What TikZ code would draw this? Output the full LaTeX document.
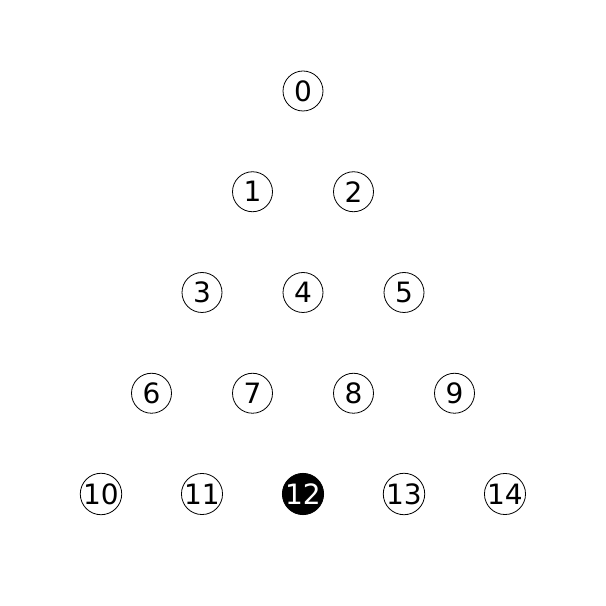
\documentclass[tikz,border=0pt]{standalone}
\usepackage{fontspec}
\setmainfont{DejaVu Sans}
\begin{document}
\begin{tikzpicture}[x=1pt,y=1pt,
  peg/.style={circle,draw=black,line width=0.8pt,minimum size=40pt,inner sep=0pt,font=\fontsize{28}{28}\selectfont,fill=white},
  hole/.style={peg,fill=black,text=white}]
\useasboundingbox (0,0) rectangle (606,606);
\foreach \r in {0,...,4}{
  \foreach \c in {0,...,\r}{
    \pgfmathtruncatemacro{\idx}{\r*(\r+1)/2+\c}
    \pgfmathsetmacro{\xx}{303+(2*\c-\r)*50.5}
    \pgfmathsetmacro{\yy}{606-(91+\r*100.75)}
    \ifnum\idx=12
      \node[hole] (n\idx) at (\xx,\yy) {\idx};
    \else
      \node[peg] (n\idx) at (\xx,\yy) {\idx};
    \fi
  }
}
\end{tikzpicture}
\end{document}
